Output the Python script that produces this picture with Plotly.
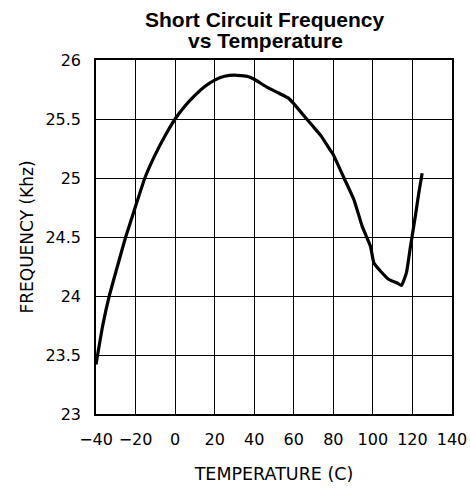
import plotly.graph_objects as go

temperature = [-40, -36.6, -33.3, -29.2, -25, -20, -15.3, -10, -5, 0, 5, 10, 15, 20, 25, 30, 36.8, 40, 46.4, 52.3,
               57.3, 60, 64.5, 69.6, 73.8, 78.3, 80, 85.4, 90.4, 94.6, 98.8, 100.5, 103.9, 108.1, 112.3, 114.5, 117,
               119, 121.5, 123.2, 124.9]
frequency = [23.42, 23.75, 24.0, 24.25, 24.5, 24.76, 25.0, 25.2, 25.36, 25.5, 25.61, 25.7, 25.775, 25.83, 25.862,
             25.872, 25.86, 25.837, 25.77, 25.72, 25.677, 25.63, 25.54, 25.44, 25.357, 25.24, 25.197, 25.0, 24.817,
             24.59, 24.42, 24.28, 24.21, 24.14, 24.11, 24.09, 24.2, 24.42, 24.68, 24.87, 25.04]

x_ticks = [-40, -20, 0, 20, 40, 60, 80, 100, 120, 140]
x_ticktext = ["\u221240", "\u221220", "0", "20", "40", "60", "80", "100", "120", "140"]
y_ticks = [23, 23.5, 24, 24.5, 25, 25.5, 26]
y_ticktext = ["23", "23.5", "24", "24.5", "25", "25.5", "26"]
title_lines = ["Short Circuit Frequency", "vs Temperature"]

fig = go.Figure()
fig.add_trace(go.Scatter(x=temperature, y=frequency, mode="lines",
                         line=dict(color="black", width=3.2, shape="spline", smoothing=0.4),
                         showlegend=False, hoverinfo="skip"))

tick_font = dict(family="DejaVu Sans", size=16, color="black")
title_font = dict(family="Liberation Sans", size=21, color="black")
fig.update_layout(
    width=470, height=491,
    margin=dict(l=96, r=18, t=60, b=77),
    paper_bgcolor="white", plot_bgcolor="white",
)
for line_text, ypix in zip(title_lines, [20, 40]):
    fig.add_annotation(text="<b>" + line_text + "</b>", xref="paper", yref="paper",
                       x=0.475, y=1 + (60 - ypix) / 354, xanchor="center", yanchor="middle",
                       showarrow=False, font=title_font)

fig.update_xaxes(range=[-40, 140], tickvals=x_ticks, ticktext=x_ticktext, automargin=False,
                 showgrid=True, gridcolor="black", gridwidth=1.4,
                 showline=True, linecolor="black", linewidth=1.6, mirror=True,
                 zeroline=False, ticks="", ticklabelstandoff=10, tickfont=tick_font,
                 title=dict(text="TEMPERATURE (C)", font=dict(family="DejaVu Sans", size=17.5, color="black"), standoff=20))
fig.update_yaxes(range=[23, 26], tickvals=y_ticks, ticktext=y_ticktext, automargin=False,
                 showgrid=True, gridcolor="black", gridwidth=1.4,
                 showline=True, linecolor="black", linewidth=1.6, mirror=True,
                 zeroline=False, ticks="", ticklabelstandoff=10, tickfont=tick_font,
                 title=dict(text="FREQUENCY (Khz)", font=dict(family="DejaVu Sans", size=17, color="black"), standoff=7))

fig.write_html("out.html", config={"displayModeBar": False},
               post_script="document.body.style.margin='0';document.body.style.padding='0';")
